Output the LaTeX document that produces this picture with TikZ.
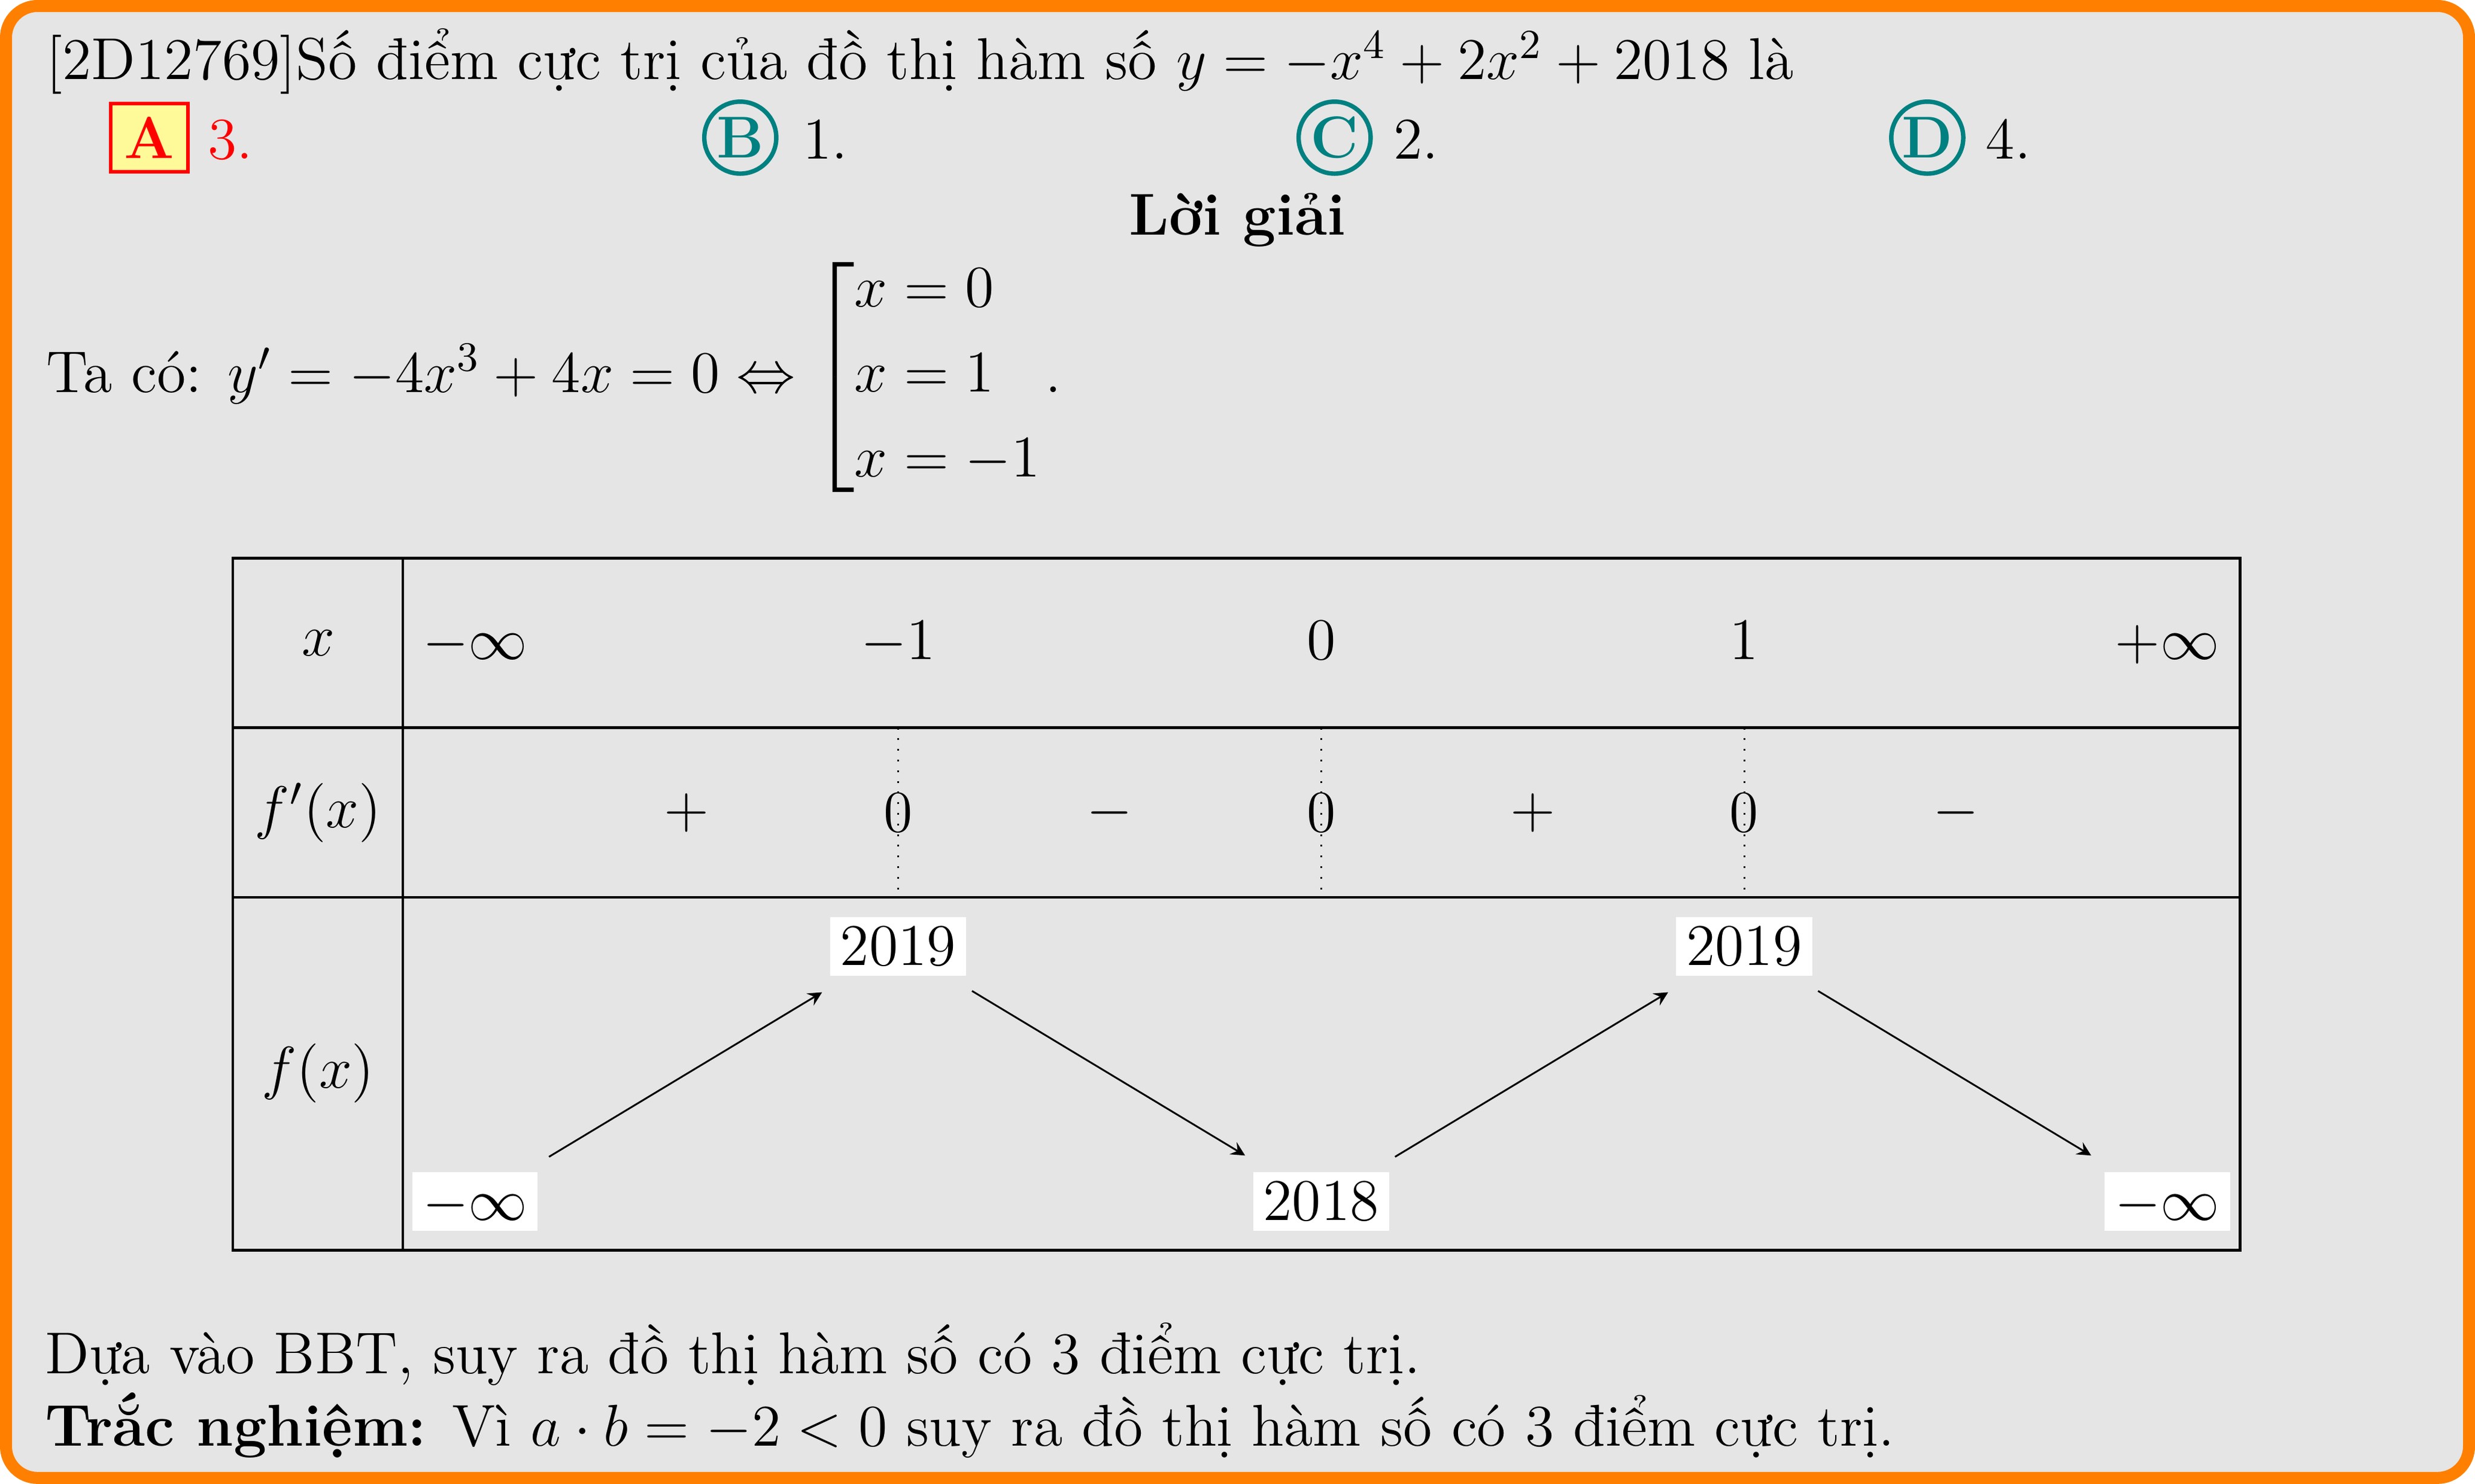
\RequirePackage{fix-cm}
\documentclass[tikz,border=0pt]{standalone}
\usepackage{amsmath}
\usepackage{fontspec}
\usepackage{xcolor}
\usepackage{tikz}
\newcommand{\tsize}{\fontsize{13.3}{16.2}\selectfont}
\tikzset{
    txt/.style = {anchor=base west, inner sep=0pt},
    choice/.style = {circle, draw=teal, line width=1pt, text=teal, minimum size=0.57cm, inner sep=0pt},
    choicer/.style = {rectangle, draw=red, fill=yellow!40, text=red, line width=0.8pt, minimum width=0.61cm, minimum height=0.54cm, inner sep=0pt},
    xval/.style = {anchor=base},
    valnode/.style = {fill=white, inner xsep=2.3pt, inner ysep=2.3pt, text height=8.6pt, text depth=0pt},
    edgev/.style = {->, >=stealth, shorten <=0.22cm, shorten >=0.24cm},
    edged/.style = {dotted},
    tline/.style = {semithick},
}
\begin{document}
\begin{tikzpicture}[
	font=\tsize
]
\useasboundingbox (0,0) rectangle (19.6,11.75);
\draw[line width=0.095cm, draw=orange, fill=black!10, rounded corners=0.25cm] (0.0475,0.0475) rectangle (19.5525,11.7025);
% de bai
\node[txt] (de) at (0.36,11.12) {[2D12769]Số điểm cực trị của đồ thị hàm số $y=-x^4+2x^2+2018$ là};
\node[choicer] (a) at (1.184,10.66) {\textbf{A}};
\node[txt,text=red] (a1) at (1.64,10.49) {3.};
\node[choice] (b) at (5.8625,10.66) {\textbf{B}};
\node[txt] (b1) at (6.35,10.49) {1.};
\node[choice] (c) at (10.569,10.66) {\textbf{C}};
\node[txt] (c1) at (11.03,10.49) {2.};
\node[choice] (d) at (15.2625,10.66) {\textbf{D}};
\node[txt] (d1) at (15.72,10.49) {4.};
% loi giai
\node[anchor=base] (lg) at (9.8,9.8875) {\textbf{Lời giải}};
\node[txt] (tc) at (0.36,8.645) {Ta có: $y'=-4x^3+4x=0\Leftrightarrow\left[\begin{aligned}&x=0\\&x=1\\&x=-1\end{aligned}\right.$.};
% bang bien thien
\draw[tline] (1.845,1.85) rectangle (17.74,7.329);
\draw[tline] (3.191,1.85) -- (3.191,7.329);
\draw[tline] (1.845,5.9875) -- (17.74,5.9875);
\draw[tline] (1.845,4.644) -- (17.74,4.644);
%
\node (lx) at (2.519,6.6575) {$x$};
\node (lfp) at (2.519,5.316) {$f'(x)$};
\node (lf) at (2.519,3.25) {$f(x)$};
%
\node[xval] (x0) at (3.7625,6.531) {$-\infty$};
\node[xval] (x1) at (7.1125,6.531) {$-1$};
\node[xval] (x2) at (10.4625,6.531) {$0$};
\node[xval] (x3) at (13.8125,6.531) {$1$};
\node[xval] (x4) at (17.1625,6.531) {$+\infty$};
%
\node (s1) at (5.4375,5.316) {$+$};
\node (z1) at (7.1125,5.316) {$0$};
\node (s2) at (8.7875,5.316) {$-$};
\node (z2) at (10.4625,5.316) {$0$};
\node (s3) at (12.1375,5.316) {$+$};
\node (z3) at (13.8125,5.316) {$0$};
\node (s4) at (15.4875,5.316) {$-$};
%
\coordinate (t1) at (7.1125,5.9875);
\coordinate (b1) at (7.1125,4.644);
\coordinate (t2) at (10.4625,5.9875);
\coordinate (b2) at (10.4625,4.644);
\coordinate (t3) at (13.8125,5.9875);
\coordinate (b3) at (13.8125,4.644);
\draw[edged] (t1) -- (b1);
\draw[edged] (t2) -- (b2);
\draw[edged] (t3) -- (b3);
%
\node[valnode] (m0) at (3.7625,2.2375) {$-\infty$};
\node[valnode] (m1) at (7.1125,4.256) {$2019$};
\node[valnode] (m2) at (10.4625,2.2375) {$2018$};
\node[valnode] (m3) at (13.8125,4.256) {$2019$};
\node[valnode] (m4) at (17.1625,2.2375) {$-\infty$};
%
\draw[edgev] (m0) -- (m1);
\draw[edgev] (m1) -- (m2);
\draw[edgev] (m2) -- (m3);
\draw[edgev] (m3) -- (m4);
% ket luan
\node[txt] (kl) at (0.35,0.875) {Dựa vào BBT, suy ra đồ thị hàm số có 3 điểm cực trị.};
\node[txt] (tn) at (0.35,0.3025) {\textbf{Trắc nghiệm:} Vì $a\cdot b=-2<0$ suy ra đồ thị hàm số có 3 điểm cực trị.};
\end{tikzpicture}
\end{document}
